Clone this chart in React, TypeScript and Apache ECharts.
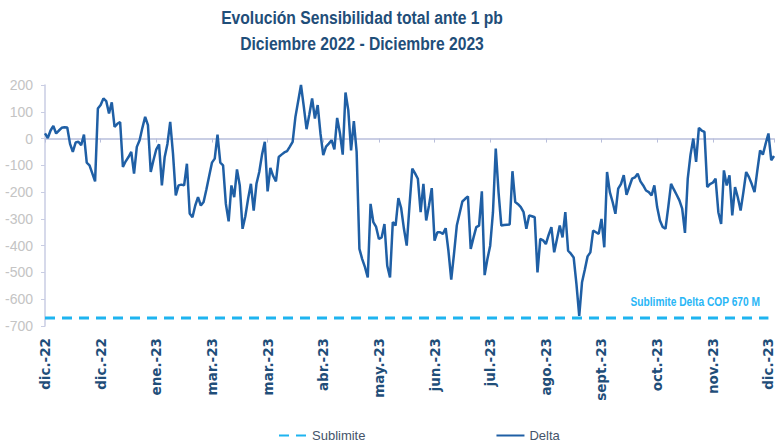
import React, { useEffect, useRef } from "react";
import * as echarts from "echarts";

const tickLabels = [
  "dic.-22", "dic.-22", "ene.-23", "mar.-23", "mar.-23", "abr.-23", "may.-23",
  "jun.-23", "jul.-23", "ago.-23", "sept.-23", "oct.-23", "nov.-23", "dic.-23",
];

const sublimiteValue = -670;
const sublimiteSpan = [0, 260];

const deltaValues = [
  19, 2, 30, 47, 19, 30, 40, 42, 41, -20,
  -50, -15, -12, -25, 15, -90, -100, -130, -160, 112,
  125, 150, 140, 94, 135, 44, 55, 62, -106, -85,
  -69, -50, -131, -31, -6, 40, 81, 50, -125, -80,
  -40, -22, -175, -70, -20, 62, -56, -212, -175, -172,
  -175, -94, -280, -294, -250, -219, -250, -237, -190, -140,
  -90, -75, 15, -90, -100, -244, -309, -175, -219, -115,
  -175, -337, -290, -225, -169, -269, -169, -125, -60, -12,
  -197, -110, -140, -160, -69, -60, -52, -47, -30, -12,
  81, 140, 200, 120, 35, 90, 150, 75, 125, 19,
  -62, -30, -19, -6, -40, 77, 20, -60, 172, 106,
  -44, 65, -50, -412, -450, -480, -519, -244, -312, -330,
  -375, -369, -319, -475, -519, -312, -325, -222, -260, -337,
  -400, -250, -112, -130, -150, -275, -169, -306, -250, -185,
  -381, -350, -350, -356, -335, -420, -527, -430, -325, -280,
  -235, -225, -216, -412, -370, -331, -325, -197, -510, -450,
  -400, -275, -37, -200, -325, -323, -322, -321, -122, -237,
  -245, -256, -275, -337, -287, -290, -294, -500, -375, -380,
  -394, -360, -331, -425, -375, -325, -369, -275, -419, -430,
  -444, -544, -662, -537, -490, -440, -425, -344, -350, -356,
  -300, -406, -125, -200, -237, -281, -187, -170, -137, -210,
  -180, -150, -145, -131, -160, -175, -194, -200, -212, -175,
  -256, -306, -330, -337, -256, -169, -190, -210, -231, -262,
  -352, -150, -60, 0, -87, 40, 30, 25, -181, -170,
  -165, -150, -275, -319, -119, -175, -137, -287, -181, -220,
  -269, -200, -125, -144, -170, -200, -120, -44, -60, -19,
  19, -81, -65,
];

const yTicks = { min: -700, max: 200, interval: 100 };

const titleLines = [
  "Evolución Sensibilidad total ante 1 pb",
  "Diciembre 2022 - Diciembre 2023",
];
const sublimiteNote = "Sublimite Delta COP 670 M";

export default function App() {
  const ref = useRef<HTMLDivElement>(null);
  useEffect(() => {
    if (!ref.current) return;
    const chart = echarts.init(ref.current, undefined, { renderer: "svg" });
    const xMax = deltaValues.length - 1;
    const sans = "'Liberation Sans', Arial, sans-serif";
    chart.setOption({
      animation: false,
      backgroundColor: "#ffffff",
      grid: { left: 45, right: 3, top: 85, bottom: 118, containLabel: false },
      graphic: [
        {
          type: "text",
          x: 362,
          y: 18,
          scaleX: 0.87,
          style: {
            text: titleLines[0],
            fill: "#1f4e79",
            font: `bold 18px ${sans}`,
            align: "center",
            verticalAlign: "middle",
          },
        },
        {
          type: "text",
          x: 362,
          y: 44,
          scaleX: 0.87,
          style: {
            text: titleLines[1],
            fill: "#1f4e79",
            font: `bold 18px ${sans}`,
            align: "center",
            verticalAlign: "middle",
          },
        },
        {
          type: "text",
          x: 760,
          y: 302,
          scaleX: 0.85,
          style: {
            text: sublimiteNote,
            fill: "#29b6f6",
            font: `bold 12px ${sans}`,
            align: "right",
            verticalAlign: "middle",
          },
        },
      ],
      legend: {
        top: 424,
        left: 273,
        padding: 5,
        itemWidth: 28,
        itemHeight: 10,
        itemGap: 130,
        itemStyle: { opacity: 0 },
        textStyle: { color: "#44546a", fontSize: 13, fontFamily: sans },
        data: ["Sublimite", "Delta"],
      },
      xAxis: [
        {
          type: "value",
          min: 0,
          max: xMax,
          interval: 20,
          axisLine: { show: false, onZero: false },
          axisTick: { show: false },
          splitLine: { show: false },
          axisLabel: {
            rotate: 90,
            margin: 12,
            color: "#1f4e79",
            fontWeight: "bold",
            fontSize: 13.5,
            fontFamily: "'DejaVu Sans', sans-serif",
            showMaxLabel: false,
            formatter: (v: number) => (v % 20 === 0 ? tickLabels[v / 20] ?? "" : ""),
          },
        },
        {
          type: "value",
          min: 0,
          max: xMax,
          interval: 20,
          position: "bottom",
          axisLine: { show: true, onZero: true, lineStyle: { color: "#b8bedb", width: 1.5 } },
          axisTick: { show: true, length: 4, lineStyle: { color: "#b8bedb" } },
          axisLabel: { show: false },
          splitLine: { show: false },
        },
      ],
      yAxis: {
        type: "value",
        min: yTicks.min,
        max: yTicks.max,
        interval: yTicks.interval,
        axisLine: { show: true, onZero: false, lineStyle: { color: "#c9cde3", width: 1.5 } },
        axisTick: { show: true, length: 4, lineStyle: { color: "#c9cde3" } },
        splitLine: { show: false },
        axisLabel: {
          margin: 12,
          color: "#c4c4c4",
          fontSize: 14,
          fontFamily: sans,
        },
      },
      series: [
        {
          name: "Sublimite",
          type: "line",
          xAxisIndex: 0,
          symbol: "none",
          data: sublimiteSpan.map((x) => [x, sublimiteValue]),
          lineStyle: { color: "#1eb4f0", width: 3, type: [10, 7] },
          itemStyle: { color: "#1eb4f0", opacity: 0 },
          z: 2,
        },
        {
          name: "Delta",
          type: "line",
          xAxisIndex: 0,
          symbol: "none",
          clip: false,
          data: deltaValues.map((v, i) => [i, v]),
          lineStyle: { color: "#1f5fa5", width: 2.5 },
          itemStyle: { color: "#1f5fa5", opacity: 0 },
          z: 3,
        },
      ],
    });
    return () => chart.dispose();
  }, []);
  return (
    <div
      ref={ref}
      style={{ position: "fixed", left: 0, top: 0, width: 777, height: 444, background: "#fff" }}
    />
  );
}
